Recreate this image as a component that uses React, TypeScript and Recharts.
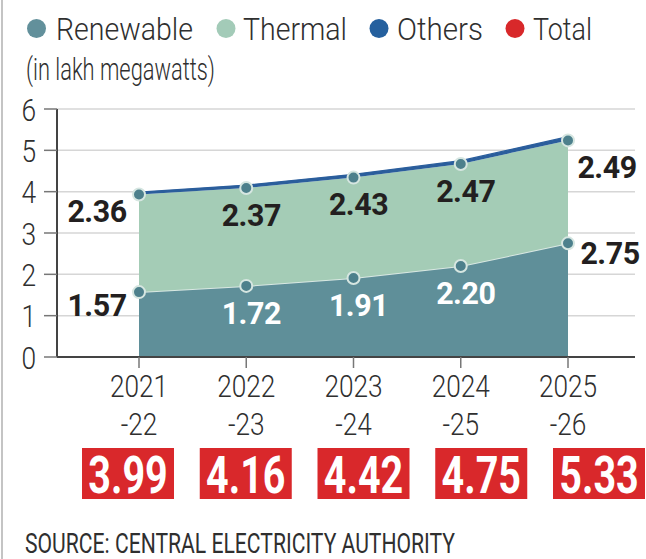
import React from "react";
import {
  ComposedChart,
  Area,
  Line,
  XAxis,
  YAxis,
  CartesianGrid,
  LabelList,
} from "recharts";

const years = ["2021-22", "2022-23", "2023-24", "2024-25", "2025-26"];
const renewable = [1.57, 1.72, 1.91, 2.2, 2.75];
const thermal = [2.36, 2.37, 2.43, 2.47, 2.49];
const others = [0.06, 0.07, 0.08, 0.08, 0.09];
const totals = [3.99, 4.16, 4.42, 4.75, 5.33];
const yTicks = [0, 1, 2, 3, 4, 5, 6];

const legendItems = [
  { name: "Renewable", color: "#62909b" },
  { name: "Thermal", color: "#a3cbb8" },
  { name: "Others", color: "#25609e" },
  { name: "Total", color: "#d8282a" },
];

const data = years.map((year, i) => ({
  year,
  renewable: renewable[i],
  thermal: thermal[i],
  others: others[i],
  thermalTop: +(renewable[i] + thermal[i]).toFixed(2),
}));

const FONT = "Roboto, 'Noto Sans', sans-serif";
const TEXT = "#2f2f2f";

const XTick = (props: any) => {
  const { x, y, payload } = props;
  const parts = String(payload.value).split("-");
  return (
    <g transform={`translate(${x},${y}) scale(0.82,1)`}>
      <text
        textAnchor="middle"
        fontSize={32}
        fontWeight={300}
        fontFamily={FONT}
        fill={TEXT}
      >
        <tspan x={0} y={27}>
          {parts[0]}
        </tspan>
        <tspan x={0} y={65}>
          {"-" + parts[1]}
        </tspan>
      </text>
    </g>
  );
};

const YTick = (props: any) => {
  const { x, y, payload } = props;
  return (
    <text
      transform={`translate(${x},${y + 1}) scale(0.85,1)`}
      textAnchor="end"
      dominantBaseline="central"
      fontSize={31}
      fontWeight={300}
      fontFamily={FONT}
      fill={TEXT}
    >
      {payload.value}
    </text>
  );
};

const makeLabel = (kind: "renewable" | "thermal") => (props: any) => {
  const { x, y, index } = props;
  const n = years.length;
  const val = kind === "renewable" ? renewable[index] : thermal[index];
  let dx = 5;
  let dy = 27;
  let fill = kind === "renewable" ? "#ffffff" : "#231f20";
  if (index === 0) {
    dx = -42;
    dy = kind === "renewable" ? 13 : 17;
    fill = "#231f20";
  } else if (index === n - 1) {
    dx = kind === "renewable" ? 42 : 39;
    dy = kind === "renewable" ? 10 : 27;
    fill = "#231f20";
  }
  return (
    <text
      transform={`translate(${x + dx},${y + dy}) scale(0.95,1)`}
      textAnchor="middle"
      dominantBaseline="central"
      fontSize={32}
      fontWeight={700}
      fontFamily={FONT}
      fill={fill}
      letterSpacing={-0.5}
    >
      {val.toFixed(2)}
    </text>
  );
};

const dotStyle = { r: 6, fill: "#4d808c", stroke: "#d6e6e1", strokeWidth: 2 };

export default function App() {
  const legendDotX = [36.5, 226, 379, 515];
  const legendTextX = [56, 243, 397, 533];
  const legendTextW = [137, 104, 86, 59];
  return (
    <div
      style={{
        position: "absolute",
        left: 0,
        top: 0,
        width: 646,
        height: 559,
        background: "#fff",
        overflow: "hidden",
      }}
    >
      <ComposedChart
        width={646}
        height={559}
        data={data}
        margin={{ top: 109, right: 11, bottom: 122, left: 12 }}
      >
        <CartesianGrid vertical={false} stroke="#d6d6d6" strokeWidth={1.5} />
        <XAxis
          dataKey="year"
          interval={0}
          height={80}
          padding={{ left: 82, right: 67 }}
          tickSize={11}
          tickLine={{ stroke: "#777", strokeWidth: 1.5 }}
          axisLine={{ stroke: "#444", strokeWidth: 2 }}
          tick={<XTick />}
        />
        <YAxis
          width={45}
          domain={[0, 6]}
          ticks={yTicks}
          interval={0}
          tickSize={13}
          tickMargin={8}
          tickLine={{ stroke: "#777", strokeWidth: 1.5 }}
          axisLine={{ stroke: "#444", strokeWidth: 2 }}
          tick={<YTick />}
        />
        <Area
          type="linear"
          dataKey="renewable"
          stackId="a"
          fill="#5f8f99"
          fillOpacity={1}
          stroke="#d9e8e3"
          strokeWidth={2}
          dot={false}
          activeDot={false}
          isAnimationActive={false}
        />
        <Area
          type="linear"
          dataKey="thermal"
          stackId="a"
          fill="#a4ccb6"
          fillOpacity={1}
          stroke="none"
          dot={false}
          activeDot={false}
          isAnimationActive={false}
        />
        <Area
          type="linear"
          dataKey="others"
          stackId="a"
          fill="#2b5e9c"
          fillOpacity={1}
          stroke="#2b5e9c"
          strokeWidth={1.2}
          dot={false}
          activeDot={false}
          isAnimationActive={false}
        />
        <Line
          type="linear"
          dataKey="renewable"
          stroke="none"
          dot={dotStyle}
          activeDot={false}
          isAnimationActive={false}
        >
          <LabelList dataKey="renewable" content={makeLabel("renewable")} />
        </Line>
        <Line
          type="linear"
          dataKey="thermalTop"
          stroke="none"
          dot={dotStyle}
          activeDot={false}
          isAnimationActive={false}
        >
          <LabelList dataKey="thermal" content={makeLabel("thermal")} />
        </Line>
      </ComposedChart>
      <svg
        width={646}
        height={559}
        style={{ position: "absolute", left: 0, top: 0, pointerEvents: "none" }}
      >
        <line x1={2} y1={0} x2={2} y2={559} stroke="#c4c4c4" strokeWidth={2} />
        {legendItems.map((item, i) => (
          <g key={item.name}>
            <circle cx={legendDotX[i]} cy={28.5} r={9.5} fill={item.color} />
            <text
              x={legendTextX[i]}
              y={40}
              fontSize={31}
              fontWeight={300}
              fontFamily={FONT}
              fill={TEXT}
              textLength={legendTextW[i]}
              lengthAdjust="spacingAndGlyphs"
            >
              {item.name}
            </text>
          </g>
        ))}
        <text
          x={26}
          y={80}
          fontSize={32}
          fontWeight={300}
          fontFamily={FONT}
          fill={TEXT}
          textLength={189}
          lengthAdjust="spacingAndGlyphs"
        >
          (in lakh megawatts)
        </text>
        {totals.map((t, i) => {
          const bx = 82 + i * 117.75;
          return (
            <g key={i}>
              <rect x={bx} y={448} width={92} height={51} fill="#d9282b" />
              <text
                transform={`translate(${bx + 46},493) scale(0.76,1)`}
                textAnchor="middle"
                fontSize={52}
                fontWeight={700}
                fontFamily={FONT}
                fill="#fff"
              >
                {t.toFixed(2)}
              </text>
            </g>
          );
        })}
        <text
          x={25}
          y={553}
          fontSize={28}
          fontWeight={400}
          fontFamily={FONT}
          fill={TEXT}
          textLength={430}
          lengthAdjust="spacingAndGlyphs"
        >
          SOURCE: CENTRAL ELECTRICITY AUTHORITY
        </text>
      </svg>
    </div>
  );
}
